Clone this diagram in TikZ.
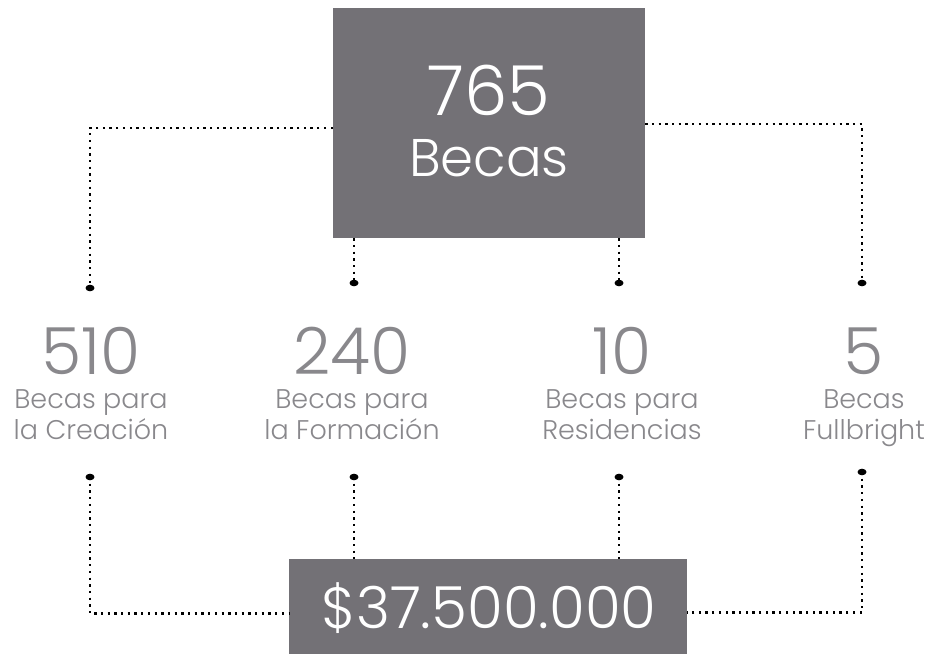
\documentclass[tikz,border=0pt]{standalone}
\usepackage{fontspec}
\setmainfont{Poppins}[UprightFont={* Light}]
\definecolor{cajagris}{HTML}{737176}
\definecolor{textogris}{HTML}{89888C}

\begin{document}
\begin{tikzpicture}
      [x=1pt, y=-1pt,
       caja/.style={fill=cajagris, inner sep=0pt},
       blanco/.style={text=white, inner sep=0pt, anchor=base},
       cifra/.style={text=textogris, inner sep=0pt, anchor=base, text depth=0pt, font=\fontsize{65}{65}\selectfont},
       etiq/.style={text=textogris, inner sep=0pt, anchor=base, align=center, font=\fontsize{27}{31}\selectfont},
       punteo/.style={line width=2.3pt, dash pattern=on 2.3pt off 4.4pt}]
      \useasboundingbox (0,0) rectangle (942,654);

      % cajas
      \node[caja, minimum width=312pt, minimum height=230pt] (tot) at (489,123) {};
      \node[blanco, font=\fontsize{69}{69}\selectfont] (totn) at (489,115) {765};
      \node[blanco, font=\fontsize{53}{53}\selectfont] (totb) at (489,176) {Becas};
      \node[caja, minimum width=398pt, minimum height=95pt] (mon) at (488,606.5) {};
      \node[blanco, font=\fontsize{58}{58}\selectfont] (monn) at (489,628) {\$37.500.000};

      % puntos
      \coordinate (p1) at (90,288);
      \coordinate (p2) at (354,283);
      \coordinate (p3) at (619,283);
      \coordinate (p4) at (862,283);
      \coordinate (q1) at (90,477);
      \coordinate (q2) at (354,477);
      \coordinate (q3) at (619,477);
      \coordinate (q4) at (862,472);

      % columnas
      \foreach \x/\n/\a/\b [count=\i] in {91/510/Becas para/la Creación,
        352/240/Becas para/la Formación, 622/10/Becas para/Residencias,
        864/5/Becas/Fullbright} {
        \node[cifra] (n\i) at (\x,374) {\n};
        \node[etiq] (e\i) at (\x,439) {\a\\\b};
      }

      \draw[punteo] ([yshift=-5pt]tot.west) -| (p1);
      \draw[punteo] (tot.south -| p2) -- (p2);
      \draw[punteo] (tot.south -| p3) -- (p3);
      \draw[punteo] ([yshift=-1pt]tot.east) -| (p4);

      \draw[punteo] (q1) |- ([yshift=-7pt]mon.west);
      \draw[punteo] (q2) -- (mon.north -| q2);
      \draw[punteo] (q3) -- (mon.north -| q3);
      \draw[punteo] (q4) |- ([yshift=-6pt]mon.east);

      \foreach \p in {p1,p2,p3,p4,q1,q2,q3,q4} {
        \fill (\p) ellipse [x radius=4.5pt, y radius=3.3pt];
      }
    \end{tikzpicture}
\end{document}
